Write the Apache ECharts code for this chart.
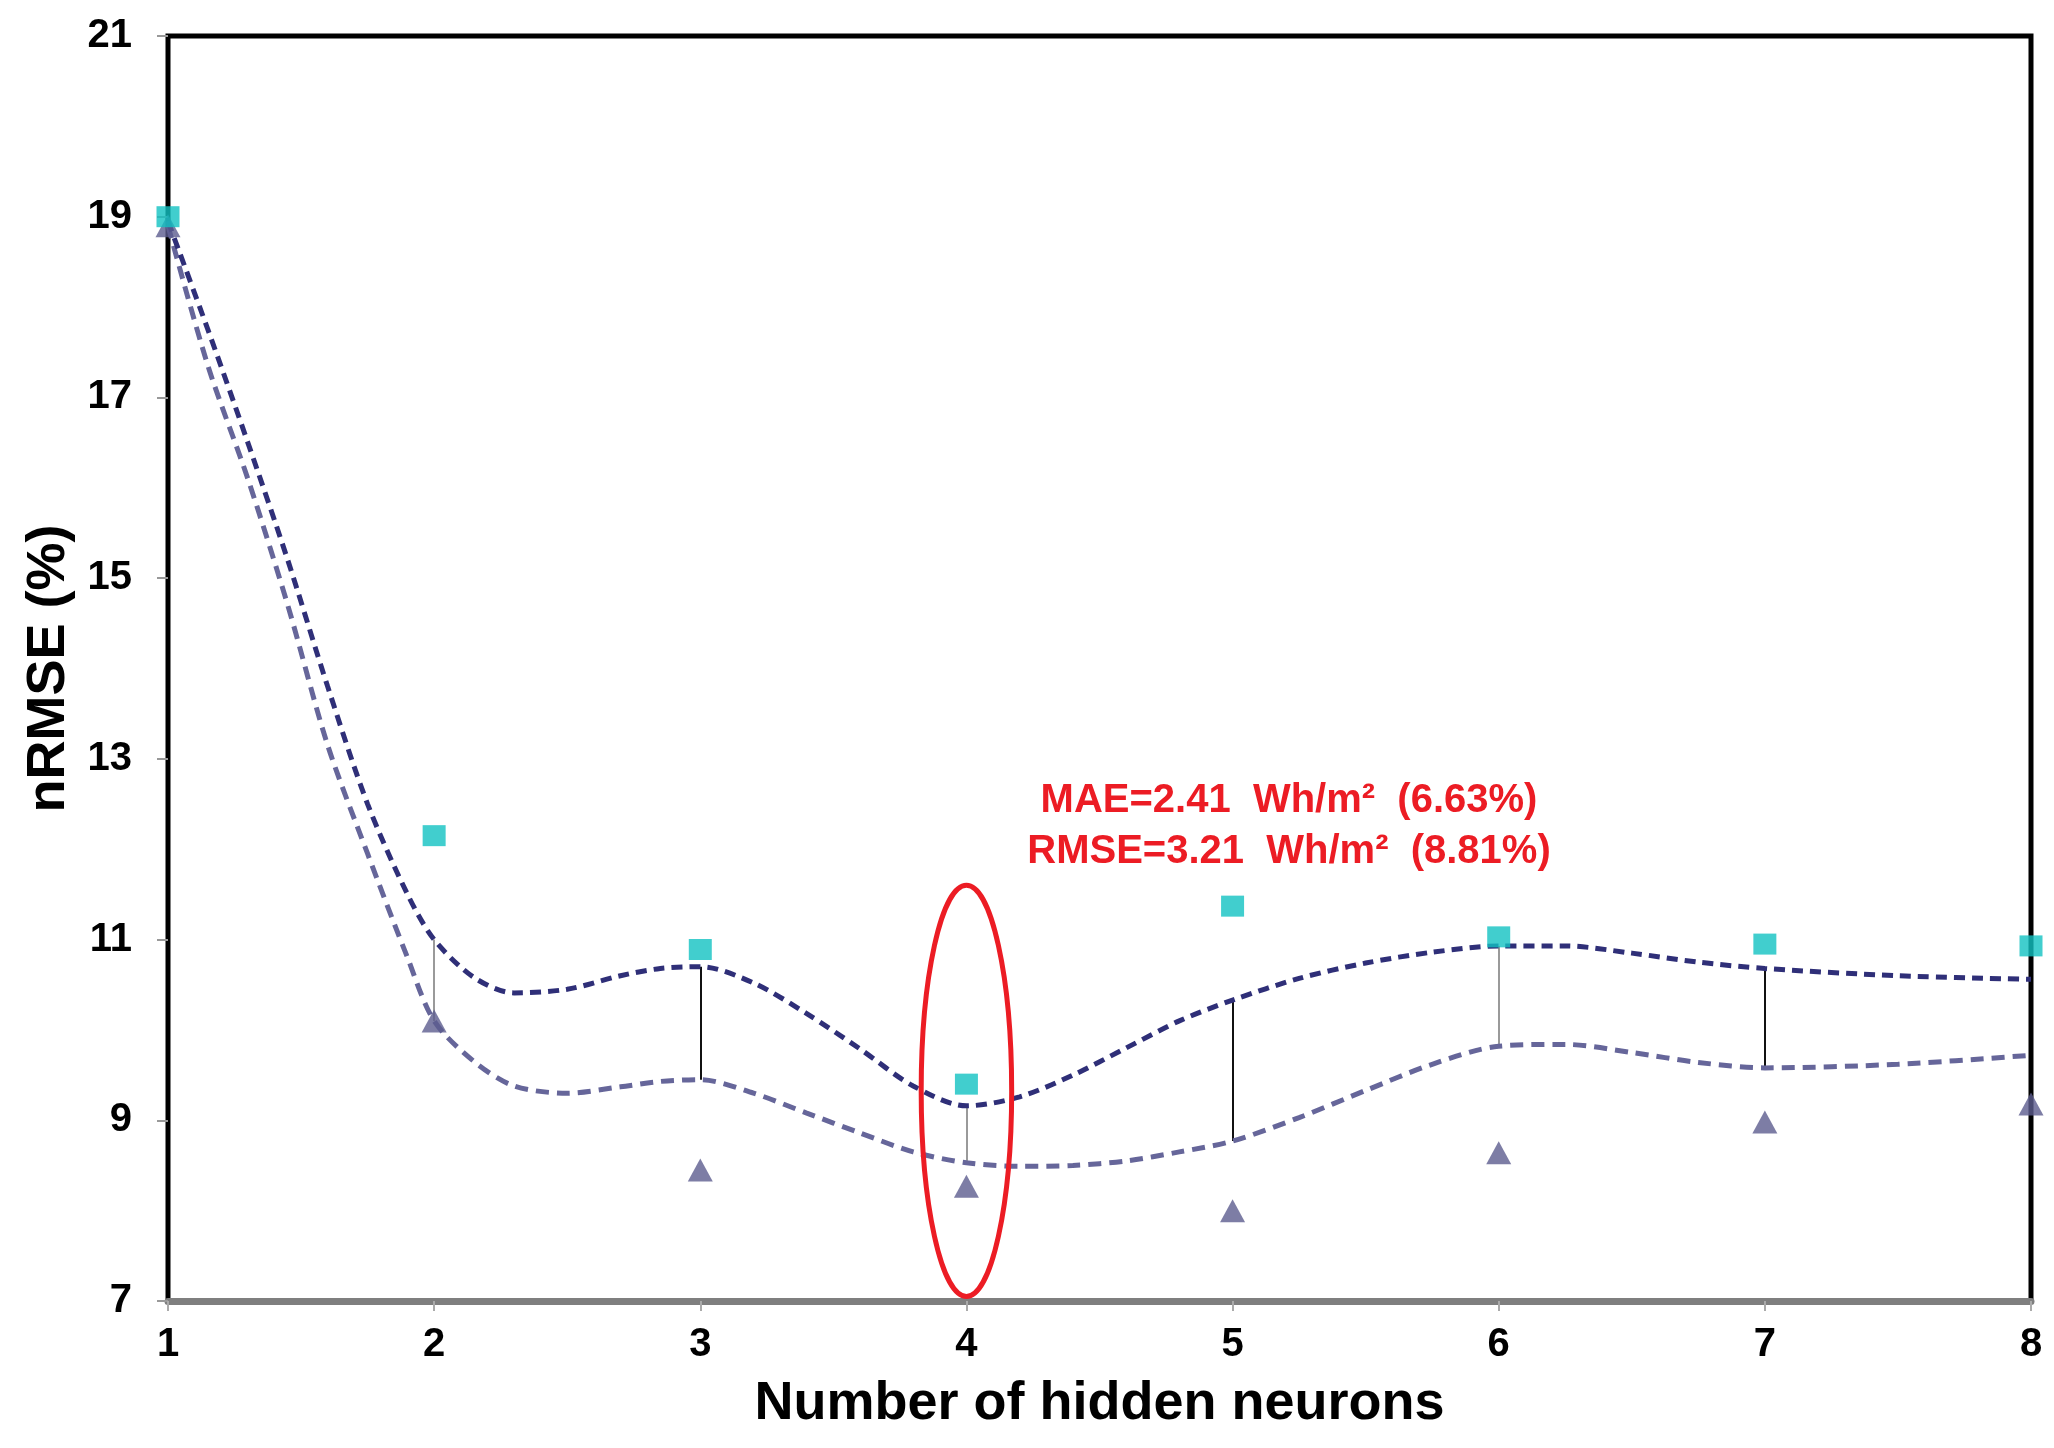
<!DOCTYPE html>
<html>
<head>
<meta charset="utf-8">
<title>nRMSE vs hidden neurons</title>
<script src="https://cdn.jsdelivr.net/npm/echarts@6/dist/echarts.min.js"></script>
<style>
  html, body { margin: 0; padding: 0; background: #fff; }
  #chart { width: 2054px; height: 1448px; }
</style>
</head>
<body>
<div id="chart"></div>
<script>
// x categories (number of hidden neurons)
const neurons = [1, 2, 3, 4, 5, 6, 7, 8];
// square markers
const squareVals = [19.0, 12.15, 10.89, 9.4, 11.37, 11.03, 10.95, 10.93];
// triangle markers
const triangleVals = [18.9, 10.1, 8.45, 8.27, 8.0, 8.64, 8.98, 9.18];

// dashed trend curves at these x positions
const curveX = [1, 1.15, 1.3, 1.45, 1.6, 1.75, 1.9, 2, 2.15, 2.3, 2.5, 2.7, 2.85, 3,
  3.2, 3.4, 3.6, 3.8, 4, 4.2, 4.4, 4.6, 4.8, 5, 5.25, 5.5, 5.75, 6, 6.25, 6.5, 6.75, 7, 7.5, 8];
const upperCurve = [18.95, 17.75, 16.5, 15.2, 13.8, 12.5, 11.5, 11.0, 10.58, 10.41, 10.45, 10.6, 10.68, 10.7,
  10.52, 10.18, 9.79, 9.38, 9.16, 9.26, 9.5, 9.8, 10.1, 10.33, 10.57, 10.74, 10.86, 10.93, 10.93, 10.85, 10.75, 10.68, 10.6, 10.56];
const lowerCurve = [18.9, 17.35, 16.1, 14.7, 13.15, 11.95, 10.8, 10.1, 9.65, 9.38, 9.3, 9.37, 9.43, 9.45,
  9.3, 9.08, 8.86, 8.65, 8.53, 8.49, 8.5, 8.55, 8.65, 8.77, 9.03, 9.33, 9.62, 9.82, 9.84, 9.75, 9.64, 9.58, 9.62, 9.72];

// high-low connectors between the two curves
const hiLoX = [2, 3, 4, 5, 6, 7];

// y ticks
const yMin = 7, yMax = 21, yStep = 2;

// highlighted point
const bestNeuron = 4;
const annotation = ['MAE=2.41  Wh/m²  (6.63%)', 'RMSE=3.21  Wh/m²  (8.81%)'];

const FONT = '"Liberation Sans", Arial, Helvetica, sans-serif';

const chart = echarts.init(document.getElementById('chart'));

const zip = (xs, ys) => xs.map((x, i) => [x, ys[i]]);

const hiLoData = hiLoX.map((x, i) => {
  const k = curveX.indexOf(x);
  return {
    coords: [[x, upperCurve[k]], [x, lowerCurve[k]]],
    lineStyle: { color: i % 2 === 0 ? '#9a9a9a' : '#111111' }
  };
});

const option = {
  animation: false,
  backgroundColor: '#ffffff',
  grid: {
    left: 168, right: 23, top: 36, bottom: 147,
    show: true, borderColor: '#000', borderWidth: 5, backgroundColor: 'transparent'
  },
  xAxis: {
    type: 'value',
    min: neurons[0], max: neurons[neurons.length - 1], interval: 1,
    name: 'Number of hidden neurons',
    nameLocation: 'middle', nameGap: 76,
    nameTextStyle: { fontFamily: FONT, fontWeight: 'bold', fontSize: 54, color: '#000' },
    axisLine: { show: true, onZero: false, lineStyle: { color: '#7f7f7f', width: 7 } },
    axisTick: { show: true, length: 10, lineStyle: { color: '#aaa', width: 2 } },
    axisLabel: { fontFamily: FONT, fontWeight: 'bold', fontSize: 40, color: '#000', margin: 24 },
    splitLine: { show: false }
  },
  yAxis: {
    type: 'value',
    min: yMin, max: yMax, interval: yStep,
    name: 'nRMSE (%)',
    nameLocation: 'middle', nameGap: 90,
    nameTextStyle: { fontFamily: FONT, fontWeight: 'bold', fontSize: 54, color: '#000' },
    axisLine: { show: true, onZero: false, lineStyle: { color: '#000', width: 4 } },
    axisTick: { show: true, length: 11, lineStyle: { color: '#999', width: 2 } },
    axisLabel: { fontFamily: FONT, fontWeight: 'bold', fontSize: 40, color: '#000', margin: 36 },
    splitLine: { show: false }
  },
  series: [
    {
      name: 'lower curve',
      type: 'line',
      data: zip(curveX, lowerCurve),
      smooth: 0.3,
      showSymbol: false,
      lineStyle: { color: '#66669a', width: 5, type: [13, 8] },
      z: 2
    },
    {
      name: 'upper curve',
      type: 'line',
      data: zip(curveX, upperCurve),
      smooth: 0.3,
      showSymbol: false,
      lineStyle: { color: '#2f2f78', width: 5, type: [11, 7] },
      z: 3
    },
    {
      name: 'hi-lo',
      type: 'lines',
      coordinateSystem: 'cartesian2d',
      data: hiLoData,
      lineStyle: { width: 2, opacity: 1 },
      z: 1
    },
    {
      name: 'triangles',
      type: 'scatter',
      data: zip(neurons, triangleVals),
      symbol: 'triangle',
      symbolSize: [25, 23],
      itemStyle: { color: '#5c5c8e' },
      z: 4
    },
    {
      name: 'squares',
      type: 'scatter',
      data: zip(neurons, squareVals),
      symbol: 'rect',
      symbolSize: [23, 21],
      itemStyle: { color: '#12c2c2' },
      z: 5
    },
    {
      name: 'highlight',
      type: 'custom',
      data: [[bestNeuron]],
      renderItem: function (params, api) {
        const c = api.coord([api.value(0), (yMin + 11.6) / 2]);
        const top = api.coord([api.value(0), 11.6]);
        const side = api.coord([api.value(0) + 0.17, 11.6]);
        const rx = side[0] - top[0];
        const ry = (api.coord([api.value(0), yMin + 0.05])[1] - top[1]) / 2;
        const cy = top[1] + ry;
        return {
          type: 'path',
          shape: {
            pathData: 'M ' + (c[0] - rx) + ' ' + cy +
              ' A ' + rx + ' ' + ry + ' 0 1 0 ' + (c[0] + rx) + ' ' + cy +
              ' A ' + rx + ' ' + ry + ' 0 1 0 ' + (c[0] - rx) + ' ' + cy + ' Z'
          },
          style: { fill: 'none', stroke: '#ec1c24', lineWidth: 5 }
        };
      },
      z: 6
    }
  ],
  graphic: [
    {
      type: 'text', x: 1289, y: 801,
      style: {
        text: annotation[0], fill: '#ec1c24', textAlign: 'center', textVerticalAlign: 'middle',
        font: 'bold 40px ' + FONT
      }
    },
    {
      type: 'text', x: 1289, y: 852,
      style: {
        text: annotation[1], fill: '#ec1c24', textAlign: 'center', textVerticalAlign: 'middle',
        font: 'bold 40px ' + FONT
      }
    }
  ]
};

chart.setOption(option);
</script>
</body>
</html>
